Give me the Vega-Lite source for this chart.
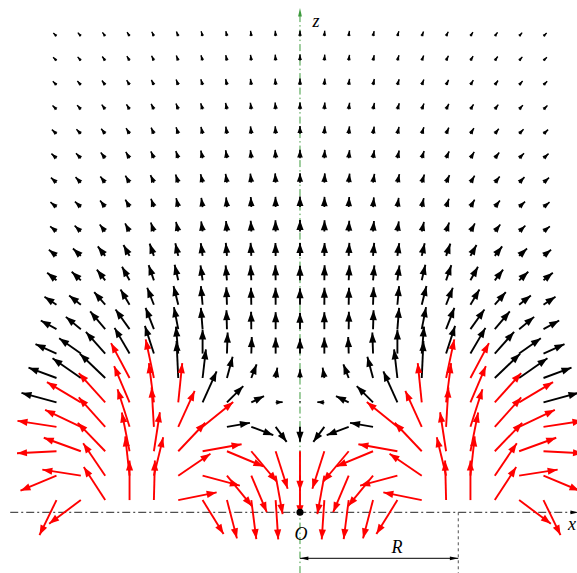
{
"$schema":"https://vega.github.io/schema/vega-lite/v6.json",
"width":577,"height":573,"padding":0,"autosize":{"type":"none"},
"background":"#ffffff",
"config":{"view":{"stroke":null}},
"datasets":{"field":[
{"x":-10,"z":19.5,"u":-3.18,"v":3.18},{"x":-9,"z":19.5,"u":-3.02,"v":3.47},{"x":-8,"z":19.5,"u":-2.76,"v":3.8},{"x":-7,"z":19.5,"u":-2.47,"v":4.11},{"x":-6,"z":19.5,"u":-2.15,"v":4.41},{"x":-5,"z":19.5,"u":-1.79,"v":4.67},{"x":-4,"z":19.5,"u":-1.49,"v":4.88},{"x":-3,"z":19.5,"u":-1.08,"v":5.09},{"x":-2,"z":19.5,"u":-0.74,"v":5.25},{"x":-1,"z":19.5,"u":-0.38,"v":5.39},{"x":0,"z":19.5,"u":0,"v":5.5},{"x":1,"z":19.5,"u":0.38,"v":5.39},{"x":2,"z":19.5,"u":0.74,"v":5.25},{"x":3,"z":19.5,"u":1.08,"v":5.09},{"x":4,"z":19.5,"u":1.49,"v":4.88},{"x":5,"z":19.5,"u":1.79,"v":4.67},{"x":6,"z":19.5,"u":2.15,"v":4.41},{"x":7,"z":19.5,"u":2.47,"v":4.11},{"x":8,"z":19.5,"u":2.76,"v":3.8},{"x":9,"z":19.5,"u":3.02,"v":3.47},{"x":10,"z":19.5,"u":3.18,"v":3.18},
{"x":-10,"z":18.5,"u":-3.39,"v":3.39},{"x":-9,"z":18.5,"u":-3.21,"v":3.7},{"x":-8,"z":18.5,"u":-2.94,"v":4.05},{"x":-7,"z":18.5,"u":-2.68,"v":4.46},{"x":-6,"z":18.5,"u":-2.32,"v":4.76},{"x":-5,"z":18.5,"u":-1.93,"v":5.04},{"x":-4,"z":18.5,"u":-1.61,"v":5.26},{"x":-3,"z":18.5,"u":-1.16,"v":5.48},{"x":-2,"z":18.5,"u":-0.81,"v":5.74},{"x":-1,"z":18.5,"u":-0.41,"v":5.89},{"x":0,"z":18.5,"u":0,"v":6},{"x":1,"z":18.5,"u":0.41,"v":5.89},{"x":2,"z":18.5,"u":0.81,"v":5.74},{"x":3,"z":18.5,"u":1.16,"v":5.48},{"x":4,"z":18.5,"u":1.61,"v":5.26},{"x":5,"z":18.5,"u":1.93,"v":5.04},{"x":6,"z":18.5,"u":2.32,"v":4.76},{"x":7,"z":18.5,"u":2.68,"v":4.46},{"x":8,"z":18.5,"u":2.94,"v":4.05},{"x":9,"z":18.5,"u":3.21,"v":3.7},{"x":10,"z":18.5,"u":3.39,"v":3.39},
{"x":-10,"z":17.5,"u":-3.68,"v":3.68},{"x":-9,"z":17.5,"u":-3.48,"v":4},{"x":-8,"z":17.5,"u":-3.23,"v":4.45},{"x":-7,"z":17.5,"u":-2.88,"v":4.8},{"x":-6,"z":17.5,"u":-2.5,"v":5.12},{"x":-5,"z":17.5,"u":-2.11,"v":5.51},{"x":-4,"z":17.5,"u":-1.75,"v":5.74},{"x":-3,"z":17.5,"u":-1.27,"v":5.97},{"x":-2,"z":17.5,"u":-0.86,"v":6.14},{"x":-1,"z":17.5,"u":-0.45,"v":6.39},{"x":0,"z":17.5,"u":0,"v":6.5},{"x":1,"z":17.5,"u":0.45,"v":6.39},{"x":2,"z":17.5,"u":0.86,"v":6.14},{"x":3,"z":17.5,"u":1.27,"v":5.97},{"x":4,"z":17.5,"u":1.75,"v":5.74},{"x":5,"z":17.5,"u":2.11,"v":5.51},{"x":6,"z":17.5,"u":2.5,"v":5.12},{"x":7,"z":17.5,"u":2.88,"v":4.8},{"x":8,"z":17.5,"u":3.23,"v":4.45},{"x":9,"z":17.5,"u":3.48,"v":4},{"x":10,"z":17.5,"u":3.68,"v":3.68},
{"x":-10,"z":16.5,"u":-3.96,"v":3.96},{"x":-9,"z":16.5,"u":-3.74,"v":4.3},{"x":-8,"z":16.5,"u":-3.47,"v":4.77},{"x":-7,"z":16.5,"u":-3.09,"v":5.14},{"x":-6,"z":16.5,"u":-2.72,"v":5.57},{"x":-5,"z":16.5,"u":-2.26,"v":5.88},{"x":-4,"z":16.5,"u":-1.87,"v":6.12},{"x":-3,"z":16.5,"u":-1.37,"v":6.46},{"x":-2,"z":16.5,"u":-0.93,"v":6.63},{"x":-1,"z":16.5,"u":-0.48,"v":6.89},{"x":0,"z":16.5,"u":0,"v":7},{"x":1,"z":16.5,"u":0.48,"v":6.89},{"x":2,"z":16.5,"u":0.93,"v":6.63},{"x":3,"z":16.5,"u":1.37,"v":6.46},{"x":4,"z":16.5,"u":1.87,"v":6.12},{"x":5,"z":16.5,"u":2.26,"v":5.88},{"x":6,"z":16.5,"u":2.72,"v":5.57},{"x":7,"z":16.5,"u":3.09,"v":5.14},{"x":8,"z":16.5,"u":3.47,"v":4.77},{"x":9,"z":16.5,"u":3.74,"v":4.3},{"x":10,"z":16.5,"u":3.96,"v":3.96},
{"x":-10,"z":15.5,"u":-4.61,"v":4.15},{"x":-9,"z":15.5,"u":-4.45,"v":4.6},{"x":-8,"z":15.5,"u":-4,"v":5.12},{"x":-7,"z":15.5,"u":-3.45,"v":5.74},{"x":-6,"z":15.5,"u":-2.77,"v":6.22},{"x":-5,"z":15.5,"u":-2.16,"v":6.66},{"x":-4,"z":15.5,"u":-1.62,"v":7.01},{"x":-3,"z":15.5,"u":-1.14,"v":7.21},{"x":-2,"z":15.5,"u":-0.79,"v":7.46},{"x":-1,"z":15.5,"u":-0.4,"v":7.59},{"x":0,"z":15.5,"u":0,"v":7.8},{"x":1,"z":15.5,"u":0.4,"v":7.59},{"x":2,"z":15.5,"u":0.79,"v":7.46},{"x":3,"z":15.5,"u":1.14,"v":7.21},{"x":4,"z":15.5,"u":1.62,"v":7.01},{"x":5,"z":15.5,"u":2.16,"v":6.66},{"x":6,"z":15.5,"u":2.77,"v":6.22},{"x":7,"z":15.5,"u":3.45,"v":5.74},{"x":8,"z":15.5,"u":4,"v":5.12},{"x":9,"z":15.5,"u":4.45,"v":4.6},{"x":10,"z":15.5,"u":4.61,"v":4.15},
{"x":-10,"z":14.5,"u":-5.05,"v":4.55},{"x":-9,"z":14.5,"u":-4.87,"v":5.03},{"x":-8,"z":14.5,"u":-4.44,"v":5.67},{"x":-7,"z":14.5,"u":-3.76,"v":6.26},{"x":-6,"z":14.5,"u":-3.05,"v":6.86},{"x":-5,"z":14.5,"u":-2.38,"v":7.32},{"x":-4,"z":14.5,"u":-1.78,"v":7.69},{"x":-3,"z":14.5,"u":-1.27,"v":8},{"x":-2,"z":14.5,"u":-0.86,"v":8.16},{"x":-1,"z":14.5,"u":-0.44,"v":8.39},{"x":0,"z":14.5,"u":0,"v":8.6},{"x":1,"z":14.5,"u":0.44,"v":8.39},{"x":2,"z":14.5,"u":0.86,"v":8.16},{"x":3,"z":14.5,"u":1.27,"v":8},{"x":4,"z":14.5,"u":1.78,"v":7.69},{"x":5,"z":14.5,"u":2.38,"v":7.32},{"x":6,"z":14.5,"u":3.05,"v":6.86},{"x":7,"z":14.5,"u":3.76,"v":6.26},{"x":8,"z":14.5,"u":4.44,"v":5.67},{"x":9,"z":14.5,"u":4.87,"v":5.03},{"x":10,"z":14.5,"u":5.05,"v":4.55},
{"x":-10,"z":13.5,"u":-5.57,"v":5.02},{"x":-9,"z":13.5,"u":-5.35,"v":5.54},{"x":-8,"z":13.5,"u":-4.87,"v":6.23},{"x":-7,"z":13.5,"u":-4.17,"v":6.94},{"x":-6,"z":13.5,"u":-3.38,"v":7.59},{"x":-5,"z":13.5,"u":-2.63,"v":8.08},{"x":-4,"z":13.5,"u":-1.96,"v":8.47},{"x":-3,"z":13.5,"u":-1.39,"v":8.79},{"x":-2,"z":13.5,"u":-0.96,"v":9.05},{"x":-1,"z":13.5,"u":-0.49,"v":9.29},{"x":0,"z":13.5,"u":0,"v":9.5},{"x":1,"z":13.5,"u":0.49,"v":9.29},{"x":2,"z":13.5,"u":0.96,"v":9.05},{"x":3,"z":13.5,"u":1.39,"v":8.79},{"x":4,"z":13.5,"u":1.96,"v":8.47},{"x":5,"z":13.5,"u":2.63,"v":8.08},{"x":6,"z":13.5,"u":3.38,"v":7.59},{"x":7,"z":13.5,"u":4.17,"v":6.94},{"x":8,"z":13.5,"u":4.87,"v":6.23},{"x":9,"z":13.5,"u":5.35,"v":5.54},{"x":10,"z":13.5,"u":5.57,"v":5.02},
{"x":-10,"z":12.5,"u":-6.06,"v":4.91},{"x":-9,"z":12.5,"u":-5.92,"v":5.52},{"x":-8,"z":12.5,"u":-5.11,"v":6.54},{"x":-7,"z":12.5,"u":-4.17,"v":7.53},{"x":-6,"z":12.5,"u":-2.9,"v":8.42},{"x":-5,"z":12.5,"u":-2.07,"v":8.96},{"x":-4,"z":12.5,"u":-1.31,"v":9.31},{"x":-3,"z":12.5,"u":-0.84,"v":9.66},{"x":-2,"z":12.5,"u":-0.52,"v":9.99},{"x":-1,"z":12.5,"u":-0.17,"v":10.2},{"x":0,"z":12.5,"u":0,"v":10.5},{"x":1,"z":12.5,"u":0.17,"v":10.2},{"x":2,"z":12.5,"u":0.52,"v":9.99},{"x":3,"z":12.5,"u":0.84,"v":9.66},{"x":4,"z":12.5,"u":1.31,"v":9.31},{"x":5,"z":12.5,"u":2.07,"v":8.96},{"x":6,"z":12.5,"u":2.9,"v":8.42},{"x":7,"z":12.5,"u":4.17,"v":7.53},{"x":8,"z":12.5,"u":5.11,"v":6.54},{"x":9,"z":12.5,"u":5.92,"v":5.52},{"x":10,"z":12.5,"u":6.06,"v":4.91},
{"x":-10,"z":11.5,"u":-6.37,"v":5.16},{"x":-9,"z":11.5,"u":-6.21,"v":5.8},{"x":-8,"z":11.5,"u":-5.48,"v":7.01},{"x":-7,"z":11.5,"u":-4.46,"v":8.05},{"x":-6,"z":11.5,"u":-3.1,"v":8.99},{"x":-5,"z":11.5,"u":-2.23,"v":9.64},{"x":-4,"z":11.5,"u":-1.42,"v":10.1},{"x":-3,"z":11.5,"u":-0.91,"v":10.46},{"x":-2,"z":11.5,"u":-0.56,"v":10.79},{"x":-1,"z":11.5,"u":-0.19,"v":11.2},{"x":0,"z":11.5,"u":0,"v":11.5},{"x":1,"z":11.5,"u":0.19,"v":11.2},{"x":2,"z":11.5,"u":0.56,"v":10.79},{"x":3,"z":11.5,"u":0.91,"v":10.46},{"x":4,"z":11.5,"u":1.42,"v":10.1},{"x":5,"z":11.5,"u":2.23,"v":9.64},{"x":6,"z":11.5,"u":3.1,"v":8.99},{"x":7,"z":11.5,"u":4.46,"v":8.05},{"x":8,"z":11.5,"u":5.48,"v":7.01},{"x":9,"z":11.5,"u":6.21,"v":5.8},{"x":10,"z":11.5,"u":6.37,"v":5.16},
{"x":-10,"z":10.5,"u":-7.61,"v":6.16},{"x":-9,"z":10.5,"u":-7.89,"v":7.37},{"x":-8,"z":10.5,"u":-7.39,"v":9.46},{"x":-7,"z":10.5,"u":-6.06,"v":10.94},{"x":-6,"z":10.5,"u":-4.24,"v":12.3},{"x":-5,"z":10.5,"u":-2.93,"v":12.66},{"x":-4,"z":10.5,"u":-1.81,"v":12.87},{"x":-3,"z":10.5,"u":-1.13,"v":12.95},{"x":-2,"z":10.5,"u":-0.68,"v":12.99},{"x":-1,"z":10.5,"u":-0.22,"v":13},{"x":0,"z":10.5,"u":0,"v":13},{"x":1,"z":10.5,"u":0.22,"v":13},{"x":2,"z":10.5,"u":0.68,"v":12.99},{"x":3,"z":10.5,"u":1.13,"v":12.95},{"x":4,"z":10.5,"u":1.81,"v":12.87},{"x":5,"z":10.5,"u":2.93,"v":12.66},{"x":6,"z":10.5,"u":4.24,"v":12.3},{"x":7,"z":10.5,"u":6.06,"v":10.94},{"x":8,"z":10.5,"u":7.39,"v":9.46},{"x":9,"z":10.5,"u":7.89,"v":7.37},{"x":10,"z":10.5,"u":7.61,"v":6.16},
{"x":-10,"z":9.5,"u":-9.32,"v":7.55},{"x":-9,"z":9.5,"u":-9.14,"v":8.53},{"x":-8,"z":9.5,"u":-8.32,"v":10.64},{"x":-7,"z":9.5,"u":-7.52,"v":13.56},{"x":-6,"z":9.5,"u":-5.22,"v":15.14},{"x":-5,"z":9.5,"u":-3.6,"v":15.58},{"x":-4,"z":9.5,"u":-2.09,"v":14.85},{"x":-3,"z":9.5,"u":-1.31,"v":14.94},{"x":-2,"z":9.5,"u":-0.78,"v":14.98},{"x":-1,"z":9.5,"u":-0.26,"v":15},{"x":0,"z":9.5,"u":0,"v":14.5},{"x":1,"z":9.5,"u":0.26,"v":15},{"x":2,"z":9.5,"u":0.78,"v":14.98},{"x":3,"z":9.5,"u":1.31,"v":14.94},{"x":4,"z":9.5,"u":2.09,"v":14.85},{"x":5,"z":9.5,"u":3.6,"v":15.58},{"x":6,"z":9.5,"u":5.22,"v":15.14},{"x":7,"z":9.5,"u":7.52,"v":13.56},{"x":8,"z":9.5,"u":8.32,"v":10.64},{"x":9,"z":9.5,"u":9.14,"v":8.53},{"x":10,"z":9.5,"u":9.32,"v":7.55},
{"x":-10,"z":8.5,"u":-12,"v":8},{"x":-9,"z":8.5,"u":-11.7,"v":9.3},{"x":-8,"z":8.5,"u":-11,"v":12.7},{"x":-7,"z":8.5,"u":-9,"v":15.3},{"x":-6,"z":8.5,"u":-6.7,"v":17},{"x":-5,"z":8.5,"u":-4.7,"v":18.7},{"x":-4,"z":8.5,"u":-1.7,"v":18.7},{"x":-3,"z":8.5,"u":-0.6,"v":17.5},{"x":-2,"z":8.5,"u":-0.3,"v":17},{"x":-1,"z":8.5,"u":-0.1,"v":17},{"x":0,"z":8.5,"u":0,"v":16.5},{"x":1,"z":8.5,"u":0.1,"v":17},{"x":2,"z":8.5,"u":0.3,"v":17},{"x":3,"z":8.5,"u":0.6,"v":17.5},{"x":4,"z":8.5,"u":1.7,"v":18.7},{"x":5,"z":8.5,"u":4.7,"v":18.7},{"x":6,"z":8.5,"u":6.7,"v":17},{"x":7,"z":8.5,"u":9,"v":15.3},{"x":8,"z":8.5,"u":11,"v":12.7},{"x":9,"z":8.5,"u":11.7,"v":9.3},{"x":10,"z":8.5,"u":12,"v":8},
{"x":-10,"z":7.5,"u":-15.7,"v":8.7},{"x":-9,"z":7.5,"u":-15,"v":12.3},{"x":-8,"z":7.5,"u":-15,"v":17.7},{"x":-7,"z":7.5,"u":-14,"v":19.7},{"x":-6,"z":7.5,"u":-8.3,"v":21.3},{"x":-5,"z":7.5,"u":-4.3,"v":22},{"x":-4,"z":7.5,"u":-1.7,"v":21.3},{"x":-3,"z":7.5,"u":-0.5,"v":19},{"x":-2,"z":7.5,"u":-0.2,"v":17.5},{"x":-1,"z":7.5,"u":0,"v":17},{"x":0,"z":7.5,"u":0,"v":16.5},{"x":1,"z":7.5,"u":0,"v":17},{"x":2,"z":7.5,"u":0.2,"v":17.5},{"x":3,"z":7.5,"u":0.5,"v":19},{"x":4,"z":7.5,"u":1.7,"v":21.3},{"x":5,"z":7.5,"u":4.3,"v":22},{"x":6,"z":7.5,"u":8.3,"v":21.3},{"x":7,"z":7.5,"u":14,"v":19.7},{"x":8,"z":7.5,"u":15,"v":17.7},{"x":9,"z":7.5,"u":15,"v":12.3},{"x":10,"z":7.5,"u":15.7,"v":8.7},
{"x":-10,"z":6.5,"u":-21,"v":9.5},{"x":-9,"z":6.5,"u":-21.7,"v":15.3},{"x":-8,"z":6.5,"u":-19.3,"v":21.7},{"x":-7,"z":6.5,"u":-15,"v":25.7},{"x":-6,"z":6.5,"u":-9,"v":27.7},{"x":-5,"z":6.5,"u":-2.3,"v":27},{"x":-4,"z":6.5,"u":0,"v":24},{"x":-3,"z":6.5,"u":0.7,"v":21},{"x":-2,"z":6.5,"u":0.5,"v":16.5},{"x":-1,"z":6.5,"u":0,"v":16},{"x":0,"z":6.5,"u":0,"v":15},{"x":1,"z":6.5,"u":0,"v":16},{"x":2,"z":6.5,"u":-0.5,"v":16.5},{"x":3,"z":6.5,"u":-0.7,"v":21},{"x":4,"z":6.5,"u":0,"v":24},{"x":5,"z":6.5,"u":2.3,"v":27},{"x":6,"z":6.5,"u":9,"v":27.7},{"x":7,"z":6.5,"u":15,"v":25.7},{"x":8,"z":6.5,"u":19.3,"v":21.7},{"x":9,"z":6.5,"u":21.7,"v":15.3},{"x":10,"z":6.5,"u":21,"v":9.5},
{"x":-10,"z":5.5,"u":-28,"v":10.3},{"x":-9,"z":5.5,"u":-28.3,"v":19.7},{"x":-8,"z":5.5,"u":-25.3,"v":24.3},{"x":-7,"z":5.5,"u":-18.5,"v":34.9},{"x":-6,"z":5.5,"u":-8.2,"v":38.6},{"x":-5,"z":5.5,"u":-1.7,"v":37},{"x":-4,"z":5.5,"u":3.3,"v":28.7},{"x":-3,"z":5.5,"u":5.7,"v":21.3},{"x":-2,"z":5.5,"u":5.3,"v":13.7},{"x":-1,"z":5.5,"u":1.7,"v":10.3},{"x":0,"z":5.5,"u":0,"v":8.7},{"x":1,"z":5.5,"u":-1.7,"v":10.3},{"x":2,"z":5.5,"u":-5.3,"v":13.7},{"x":3,"z":5.5,"u":-5.7,"v":21.3},{"x":4,"z":5.5,"u":-3.3,"v":28.7},{"x":5,"z":5.5,"u":1.7,"v":37},{"x":6,"z":5.5,"u":8.2,"v":38.6},{"x":7,"z":5.5,"u":18.5,"v":34.9},{"x":8,"z":5.5,"u":25.3,"v":24.3},{"x":9,"z":5.5,"u":28.3,"v":19.7},{"x":10,"z":5.5,"u":28,"v":10.3},
{"x":-10,"z":4.5,"u":-35,"v":9.5},{"x":-9,"z":4.5,"u":-33.9,"v":20.3},{"x":-8,"z":4.5,"u":-26.4,"v":29.4},{"x":-7,"z":4.5,"u":-15.4,"v":36.4},{"x":-6,"z":4.5,"u":-5,"v":39.2},{"x":-5,"z":4.5,"u":4,"v":39.3},{"x":-4,"z":4.5,"u":14,"v":31},{"x":-3,"z":4.5,"u":16.3,"v":16.3},{"x":-2,"z":4.5,"u":12.7,"v":6.3},{"x":-1,"z":4.5,"u":7,"v":0.3},{"x":0,"z":4.5,"u":0,"v":1.5},{"x":1,"z":4.5,"u":-7,"v":0.3},{"x":2,"z":4.5,"u":-12.7,"v":6.3},{"x":3,"z":4.5,"u":-16.3,"v":16.3},{"x":4,"z":4.5,"u":-14,"v":31},{"x":5,"z":4.5,"u":-4,"v":39.3},{"x":6,"z":4.5,"u":5,"v":39.2},{"x":7,"z":4.5,"u":15.4,"v":36.4},{"x":8,"z":4.5,"u":26.4,"v":29.4},{"x":9,"z":4.5,"u":33.9,"v":20.3},{"x":10,"z":4.5,"u":35,"v":9.5},
{"x":-10,"z":3.5,"u":-39,"v":6},{"x":-9,"z":3.5,"u":-35.7,"v":17},{"x":-8,"z":3.5,"u":-26.4,"v":29.4},{"x":-7,"z":3.5,"u":-12,"v":37.6},{"x":-6,"z":3.5,"u":-2.3,"v":39.4},{"x":-5,"z":3.5,"u":16.4,"v":35.9},{"x":-4,"z":3.5,"u":30.6,"v":24.9},{"x":-3,"z":3.5,"u":23,"v":4},{"x":-2,"z":3.5,"u":22,"v":-8.3},{"x":-1,"z":3.5,"u":11,"v":-15},{"x":0,"z":3.5,"u":0,"v":-15},{"x":1,"z":3.5,"u":-11,"v":-15},{"x":2,"z":3.5,"u":-22,"v":-8.3},{"x":3,"z":3.5,"u":-23,"v":4},{"x":4,"z":3.5,"u":-30.6,"v":24.9},{"x":5,"z":3.5,"u":-16.4,"v":35.9},{"x":6,"z":3.5,"u":2.3,"v":39.4},{"x":7,"z":3.5,"u":12,"v":37.6},{"x":8,"z":3.5,"u":26.4,"v":29.4},{"x":9,"z":3.5,"u":35.7,"v":17},{"x":10,"z":3.5,"u":39,"v":6},
{"x":-10,"z":2.5,"u":-39.5,"v":-2},{"x":-9,"z":2.5,"u":-37.1,"v":13.5},{"x":-8,"z":2.5,"u":-27.4,"v":28.4},{"x":-7,"z":2.5,"u":-7.7,"v":38.7},{"x":-6,"z":2.5,"u":6,"v":39},{"x":-5,"z":2.5,"u":27,"v":28.5},{"x":-4,"z":2.5,"u":39,"v":7},{"x":-3,"z":2.5,"u":36.5,"v":-15.2},{"x":-2,"z":2.5,"u":25.5,"v":-30.5},{"x":-1,"z":2.5,"u":12,"v":-37.5},{"x":0,"z":2.5,"u":0,"v":-39.5},{"x":1,"z":2.5,"u":-12,"v":-37.5},{"x":2,"z":2.5,"u":-25.5,"v":-30.5},{"x":3,"z":2.5,"u":-36.5,"v":-15.2},{"x":4,"z":2.5,"u":-39,"v":7},{"x":5,"z":2.5,"u":-27,"v":28.5},{"x":6,"z":2.5,"u":-6,"v":39},{"x":7,"z":2.5,"u":7.7,"v":38.7},{"x":8,"z":2.5,"u":27.4,"v":28.4},{"x":9,"z":2.5,"u":37.1,"v":13.5},{"x":10,"z":2.5,"u":39.5,"v":-2},
{"x":-10,"z":1.5,"u":-36,"v":-15},{"x":-9,"z":1.5,"u":-38.5,"v":6},{"x":-8,"z":1.5,"u":-22,"v":32.5},{"x":-7,"z":1.5,"u":-4.3,"v":39.3},{"x":-6,"z":1.5,"u":9.3,"v":38.4},{"x":-5,"z":1.5,"u":32.2,"v":22},{"x":-4,"z":1.5,"u":37.3,"v":-10},{"x":-3,"z":1.5,"u":25,"v":-30.5},{"x":-2,"z":1.5,"u":15.5,"v":-36.5},{"x":-1,"z":1.5,"u":7,"v":-38.5},{"x":0,"z":1.5,"u":0,"v":-39.5},{"x":1,"z":1.5,"u":-7,"v":-38.5},{"x":2,"z":1.5,"u":-15.5,"v":-36.5},{"x":3,"z":1.5,"u":-25,"v":-30.5},{"x":4,"z":1.5,"u":-37.3,"v":-10},{"x":5,"z":1.5,"u":-32.2,"v":22},{"x":6,"z":1.5,"u":-9.3,"v":38.4},{"x":7,"z":1.5,"u":4.3,"v":39.3},{"x":8,"z":1.5,"u":22,"v":32.5},{"x":9,"z":1.5,"u":38.5,"v":6},{"x":10,"z":1.5,"u":36,"v":-15},
{"x":-10,"z":0.5,"u":-17,"v":-35},{"x":-9,"z":0.5,"u":-31.7,"v":-23.6},{"x":-8,"z":0.5,"u":-21.4,"v":33},{"x":-7,"z":0.5,"u":0,"v":39.5},{"x":-6,"z":0.5,"u":1,"v":39.5},{"x":-5,"z":0.5,"u":38.4,"v":7.7},{"x":-4,"z":0.5,"u":21,"v":-34},{"x":-3,"z":0.5,"u":10,"v":-38.3},{"x":-2,"z":0.5,"u":5,"v":-39},{"x":-1,"z":0.5,"u":2.6,"v":-39.3},{"x":1,"z":0.5,"u":-2.6,"v":-39.3},{"x":2,"z":0.5,"u":-5,"v":-39},{"x":3,"z":0.5,"u":-10,"v":-38.3},{"x":4,"z":0.5,"u":-21,"v":-34},{"x":5,"z":0.5,"u":-38.4,"v":7.7},{"x":6,"z":0.5,"u":-1,"v":39.5},{"x":7,"z":0.5,"u":0,"v":39.5},{"x":8,"z":0.5,"u":21.4,"v":33},{"x":9,"z":0.5,"u":31.7,"v":-23.6},{"x":10,"z":0.5,"u":17,"v":-35}
]},
"layer":[
{"data":{"values":[{"x":0,"z":-2.49,"z2":20.35}]},
 "mark":{"type":"rule","color":"#3d9a3d","strokeWidth":1,"strokeDash":[7,3,1.5,3]},
 "encoding":{"x":{"field":"x","type":"quantitative","scale":{"domain":[-12.32,11.376],"nice":false,"zero":false},"axis":null},
  "y":{"field":"z","type":"quantitative","scale":{"domain":[-2.486,20.98],"nice":false,"zero":false},"axis":null},
  "y2":{"field":"z2"}}},
{"data":{"values":[{"x":-11.9,"x2":11.2,"z":0}]},
 "mark":{"type":"rule","color":"#505050","strokeWidth":1.3,"strokeDash":[8,3,2,3]},
 "encoding":{"x":{"field":"x","type":"quantitative","scale":{"domain":[-12.32,11.376],"nice":false,"zero":false},"axis":null},
  "x2":{"field":"x2"},
  "y":{"field":"z","type":"quantitative","scale":{"domain":[-2.486,20.98],"nice":false,"zero":false},"axis":null}}},
{"data":{"values":[{"x":6.5,"z":0,"z2":-2.49}]},
 "mark":{"type":"rule","color":"#505050","strokeWidth":1,"strokeDash":[3,3]},
 "encoding":{"x":{"field":"x","type":"quantitative","scale":{"domain":[-12.32,11.376],"nice":false,"zero":false},"axis":null},
  "y":{"field":"z","type":"quantitative","scale":{"domain":[-2.486,20.98],"nice":false,"zero":false},"axis":null},
  "y2":{"field":"z2"}}},
{"data":{"values":[{"x":0,"x2":6.5,"z":-1.884}]},
 "mark":{"type":"rule","color":"#000000","strokeWidth":1},
 "encoding":{"x":{"field":"x","type":"quantitative","scale":{"domain":[-12.32,11.376],"nice":false,"zero":false},"axis":null},
  "x2":{"field":"x2"},
  "y":{"field":"z","type":"quantitative","scale":{"domain":[-2.486,20.98],"nice":false,"zero":false},"axis":null}}},
{"data":{"values":[{"x":0,"z":20.65,"a":0}]},
 "mark":{"type":"point","filled":true,"opacity":1,"strokeWidth":0,"color":"#3d9a3d","size":70,"shape":"M0,0L-0.45,2L0.45,2Z"},
 "encoding":{"x":{"field":"x","type":"quantitative","scale":{"domain":[-12.32,11.376],"nice":false,"zero":false},"axis":null},
  "y":{"field":"z","type":"quantitative","scale":{"domain":[-2.486,20.98],"nice":false,"zero":false},"axis":null},
  "angle":{"field":"a","type":"quantitative","scale":null}}},
{"data":{"values":[{"x":11.45,"z":0,"a":90},{"x":0,"z":-1.884,"a":270},{"x":6.5,"z":-1.884,"a":90}]},
 "mark":{"type":"point","filled":true,"opacity":1,"strokeWidth":0,"color":"#000000","size":70,"shape":"M0,0L-0.45,2L0.45,2Z"},
 "encoding":{"x":{"field":"x","type":"quantitative","scale":{"domain":[-12.32,11.376],"nice":false,"zero":false},"axis":null},
  "y":{"field":"z","type":"quantitative","scale":{"domain":[-2.486,20.98],"nice":false,"zero":false},"axis":null},
  "angle":{"field":"a","type":"quantitative","scale":null}}},
{"data":{"name":"field"},
 "transform":[
  {"calculate":"datum.x + datum.u/24.35","as":"hx"},
  {"calculate":"datum.z + datum.v/24.42","as":"hz"},
  {"calculate":"atan2(datum.u, datum.v)*180/PI","as":"ang"},
  {"calculate":"sqrt(datum.u*datum.u + datum.v*datum.v)","as":"m"}
 ],
 "layer":[
  {"mark":{"type":"rule","strokeCap":"butt"},
   "encoding":{"x":{"field":"x","type":"quantitative","scale":{"domain":[-12.32,11.376],"nice":false,"zero":false},"axis":null},
    "y":{"field":"z","type":"quantitative","scale":{"domain":[-2.486,20.98],"nice":false,"zero":false},"axis":null},
    "x2":{"field":"hx"},"y2":{"field":"hz"},
    "color":{"field":"m","type":"quantitative","scale":{"type":"threshold","domain":[38],"range":["#000000","#ff0000"]},"legend":null},
    "strokeWidth":{"field":"m","type":"quantitative","scale":{"domain":[0,12],"range":[1,1.9],"clamp":true},"legend":null}}},
  {"mark":{"type":"point","filled":true,"opacity":1,"strokeWidth":0,"shape":"M0,0L-0.72,2L0.72,2Z"},
   "encoding":{"x":{"field":"hx","type":"quantitative","scale":{"domain":[-12.32,11.376],"nice":false,"zero":false},"axis":null},
    "y":{"field":"hz","type":"quantitative","scale":{"domain":[-2.486,20.98],"nice":false,"zero":false},"axis":null},
    "angle":{"field":"ang","type":"quantitative","scale":null},
    "size":{"field":"m","type":"quantitative","scale":{"type":"pow","exponent":2,"domain":[0,11],"range":[0,100],"clamp":true},"legend":null},
    "color":{"field":"m","type":"quantitative","scale":{"type":"threshold","domain":[38],"range":["#000000","#ff0000"]},"legend":null}}}
 ]},
{"data":{"values":[{"x":0,"z":0}]},
 "mark":{"type":"point","shape":"circle","filled":true,"opacity":1,"strokeWidth":0,"color":"#000000","size":50},
 "encoding":{"x":{"field":"x","type":"quantitative","scale":{"domain":[-12.32,11.376],"nice":false,"zero":false},"axis":null},
  "y":{"field":"z","type":"quantitative","scale":{"domain":[-2.486,20.98],"nice":false,"zero":false},"axis":null}}},
{"data":{"values":[{"x":0.657,"z":19.86,"t":"z"},{"x":0.04,"z":-1.134,"t":"O"},{"x":3.98,"z":-1.68,"t":"R"},{"x":11.17,"z":-0.725,"t":"x"}]},
 "mark":{"type":"text","font":"Liberation Serif","fontStyle":"italic","fontSize":18,"baseline":"alphabetic","align":"center","color":"#000000"},
 "encoding":{"x":{"field":"x","type":"quantitative","scale":{"domain":[-12.32,11.376],"nice":false,"zero":false},"axis":null},
  "y":{"field":"z","type":"quantitative","scale":{"domain":[-2.486,20.98],"nice":false,"zero":false},"axis":null},
  "text":{"field":"t"}}}
]
}
